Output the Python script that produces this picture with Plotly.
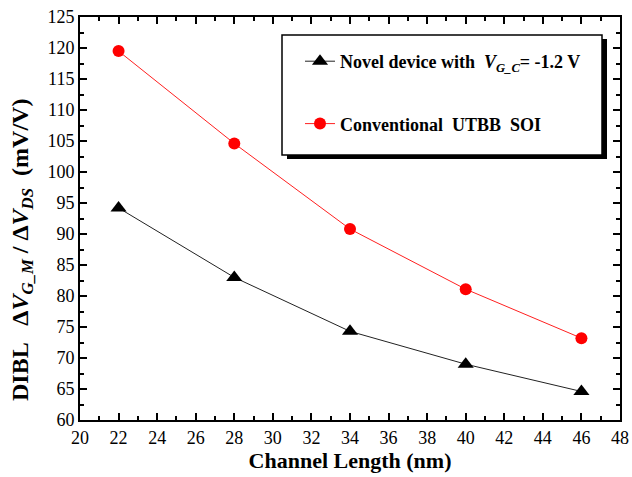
import plotly.graph_objects as go

length_nm = [22, 28, 34, 40, 46]
dibl_novel = [94.2, 83.0, 74.3, 69.0, 64.6]
dibl_conv = [119.5, 104.6, 90.8, 81.1, 73.2]

name_novel = "<b>Novel device with  <i>V<sub>G_C</sub></i>= -1.2 V</b>"
name_conv = "<b>Conventional  UTBB  SOI</b>"
x_title = "<b>Channel Length (nm)</b>"
y_title = "<b>DIBL   Δ<i>V<sub>G_M</sub></i> / Δ<i>V<sub>DS</sub></i>  (mV/V)</b>"

SERIF = "Liberation Serif, Times New Roman, serif"

fig = go.Figure()
fig.add_trace(go.Scatter(x=length_nm, y=dibl_novel, mode="lines+markers", name=name_novel,
                         legendgroup="a",
                         line=dict(color="#222222", width=1),
                         marker=dict(symbol="triangle-up", size=14, color="black")))
fig.add_trace(go.Scatter(x=length_nm, y=dibl_conv, mode="lines+markers", name=name_conv,
                         legendgroup="b",
                         line=dict(color="#ff2020", width=1),
                         marker=dict(symbol="circle", size=12, color="#ff0000")))

tickfont = dict(family=SERIF, size=18, color="black")
titlefont = dict(family=SERIF, size=22, color="black")
common = dict(showline=True, linecolor="black", linewidth=2, mirror="ticks",
              ticks="inside", ticklen=7, tickwidth=2, tickcolor="black",
              showgrid=False, zeroline=False, tickfont=tickfont, automargin=False)

fig.update_xaxes(range=[20, 48], dtick=2, tick0=20,
                 minor=dict(ticks="inside", ticklen=4, dtick=1, tickwidth=1.5, tickcolor="black"),
                 title=dict(text=x_title, font=titlefont, standoff=6),
                 **common)
fig.update_yaxes(range=[60, 125], dtick=5, tick0=60,
                 minor=dict(ticks="inside", ticklen=4, dtick=2.5, tickwidth=1.5, tickcolor="black"),
                 **common)

PW, PH, L, T = 540, 403, 80, 17
def px(xp): return (xp - L) / PW
def py(yp): return (T + PH - yp) / PH

fig.add_annotation(text=y_title, textangle=-90, xref="paper", yref="paper",
                   x=px(22), y=py(250), xanchor="center", yanchor="middle",
                   showarrow=False, font=dict(family=SERIF, size=24, color="black"))

# legend shadow and box
fig.add_shape(type="rect", xref="paper", yref="paper",
              x0=px(287), x1=px(607), y0=py(159), y1=py(39),
              fillcolor="black", line=dict(width=0), layer="above")
fig.add_shape(type="rect", xref="paper", yref="paper",
              x0=px(282), x1=px(602), y0=py(155), y1=py(35),
              fillcolor="white", line=dict(color="black", width=1.5), layer="above")

fig.update_layout(
    width=632, height=477,
    margin=dict(l=L, r=632 - L - PW, t=T, b=477 - T - PH),
    plot_bgcolor="white", paper_bgcolor="white",
    legend=dict(x=px(300), y=py(43), xanchor="left", yanchor="top",
                bgcolor="rgba(0,0,0,0)", borderwidth=0,
                font=dict(family=SERIF, size=18, color="black"),
                tracegroupgap=36),
    showlegend=True,
)

fig.write_html("out.html")
